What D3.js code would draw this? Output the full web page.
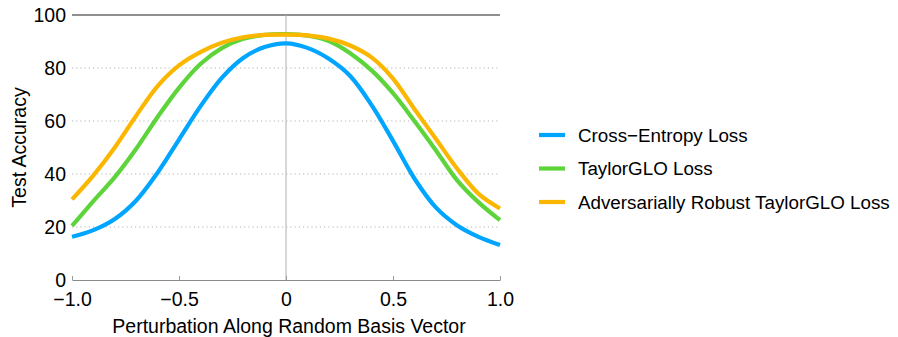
<!DOCTYPE html>
<html>
<head>
<meta charset="utf-8">
<script src="https://cdn.jsdelivr.net/npm/d3@7"></script>
<style>
  body { margin: 0; background: #fff; }
  svg text { font-family: "Liberation Sans", Arial, Helvetica, sans-serif; fill: #000; }
</style>
</head>
<body>
<svg id="chart"></svg>
<script>
const width = 898, height = 337

// perturbation steps along the random basis vector
const xs = [-1.0, -0.9, -0.8, -0.7, -0.6, -0.5, -0.4, -0.3, -0.2, -0.1, 0,
            0.1, 0.2, 0.3, 0.4, 0.5, 0.6, 0.7, 0.8, 0.9, 1.0]

const crossEntropy = [16.3, 18.8, 23.0, 30.0, 40.5, 53.0, 65.5, 76.3, 83.8, 87.9, 89.3,
                      87.6, 83.5, 77.0, 66.0, 52.5, 38.3, 27.4, 20.6, 16.3, 13.2]
const taylorGLO    = [20.4, 29.8, 38.8, 49.5, 61.5, 72.5, 81.5, 87.5, 91.0, 92.5, 92.8,
                      92.2, 90.2, 85.6, 79.1, 70.5, 60.0, 49.0, 37.6, 29.3, 22.6]
const robustGLO    = [30.4, 39.5, 50.0, 62.0, 73.2, 81.0, 86.0, 89.5, 91.6, 92.5, 92.6,
                      92.3, 91.1, 88.5, 84.0, 76.0, 64.5, 53.3, 42.0, 32.5, 27.0]

const seriesNames  = ["Cross\u2212Entropy Loss", "TaylorGLO Loss", "Adversarially Robust TaylorGLO Loss"]
const seriesColors = ["#00a5ff", "#5cd43a", "#fbb700"]

const xTicks = [-1, -0.5, 0, 0.5, 1]
const yTicks = [0, 20, 40, 60, 80, 100]

const margin = { left: 72, right: 398, top: 15, bottom: 57 }
const fontSize = 19.5

const svg = d3.select("#chart")
    .attr("width", width)
    .attr("height", height)

const x = d3.scaleLinear().domain([-1, 1]).range([margin.left, width - margin.right])
const y = d3.scaleLinear().domain([0, 100]).range([height - margin.bottom, margin.top])

const fmtX = d => d === 0 ? "0" : d3.format(".1f")(d).replace("-", "\u2212")

// dotted grid lines
svg.append("g")
    .selectAll("line")
    .data(yTicks.filter(d => d > 0 && d < 100))
    .enter()
    .append("line")
    .attr("x1", x(-1)).attr("x2", x(1))
    .attr("y1", d => y(d)).attr("y2", d => y(d))
    .attr("stroke", "#b4b4b4")
    .attr("stroke-width", 1.2)
    .attr("stroke-dasharray", "1.2,3")

// top frame line at 100
svg.append("line")
    .attr("x1", x(-1)).attr("x2", x(1))
    .attr("y1", y(100)).attr("y2", y(100))
    .attr("stroke", "#6a6a6a")
    .attr("stroke-width", 1.3)

// vertical zero line
svg.append("line")
    .attr("x1", x(0)).attr("x2", x(0))
    .attr("y1", y(100)).attr("y2", y(0))
    .attr("stroke", "#b0b0b0")
    .attr("stroke-width", 1)

// bottom axis
let xAxis = svg.append("g")
    .attr("transform", `translate(0,${y(0)})`)
    .call(d3.axisBottom(x).tickValues(xTicks).tickFormat(fmtX).tickSizeInner(-4).tickSizeOuter(0).tickPadding(12))
xAxis.select(".domain").attr("stroke", "#8a8a8a").attr("stroke-width", 1.2)
xAxis.selectAll(".tick line").attr("stroke", "#9a9a9a")
xAxis.selectAll("text").attr("font-size", fontSize)

// left axis labels
let yAxis = svg.append("g")
    .attr("transform", `translate(${x(-1)},0)`)
    .call(d3.axisLeft(y).tickValues(yTicks).tickSize(0).tickPadding(6))
yAxis.select(".domain").remove()
yAxis.selectAll("text").attr("font-size", fontSize)

// lines
const line = d3.line()
    .x((d, i) => x(xs[i]))
    .y(d => y(d))
    .curve(d3.curveCatmullRom.alpha(0.5))

const allSeries = [crossEntropy, taylorGLO, robustGLO]
svg.append("g")
    .selectAll("path")
    .data(allSeries)
    .enter()
    .append("path")
    .attr("d", d => line(d))
    .attr("fill", "none")
    .attr("stroke", (d, i) => seriesColors[i])
    .attr("stroke-width", 4.2)
    .attr("stroke-linejoin", "round")

// axis titles
svg.append("text")
    .attr("x", x(0) + 3)
    .attr("y", 333)
    .attr("text-anchor", "middle")
    .attr("font-size", fontSize)
    .text("Perturbation Along Random Basis Vector")

svg.append("text")
    .attr("transform", `translate(26,${y(50)}) rotate(-90)`)
    .attr("text-anchor", "middle")
    .attr("font-size", fontSize)
    .text("Test Accuracy")

// legend
const legendY = [135, 168.5, 202]
let legend = svg.append("g")
    .selectAll("g")
    .data(seriesNames)
    .enter()
    .append("g")
    .attr("transform", (d, i) => `translate(539,${legendY[i]})`)
legend.append("line")
    .attr("x1", 0).attr("x2", 26)
    .attr("stroke", (d, i) => seriesColors[i])
    .attr("stroke-width", 4.2)
legend.append("text")
    .attr("x", 39)
    .attr("dy", "0.35em")
    .attr("font-size", 18.8)
    .text(d => d)
</script>
</body>
</html>
